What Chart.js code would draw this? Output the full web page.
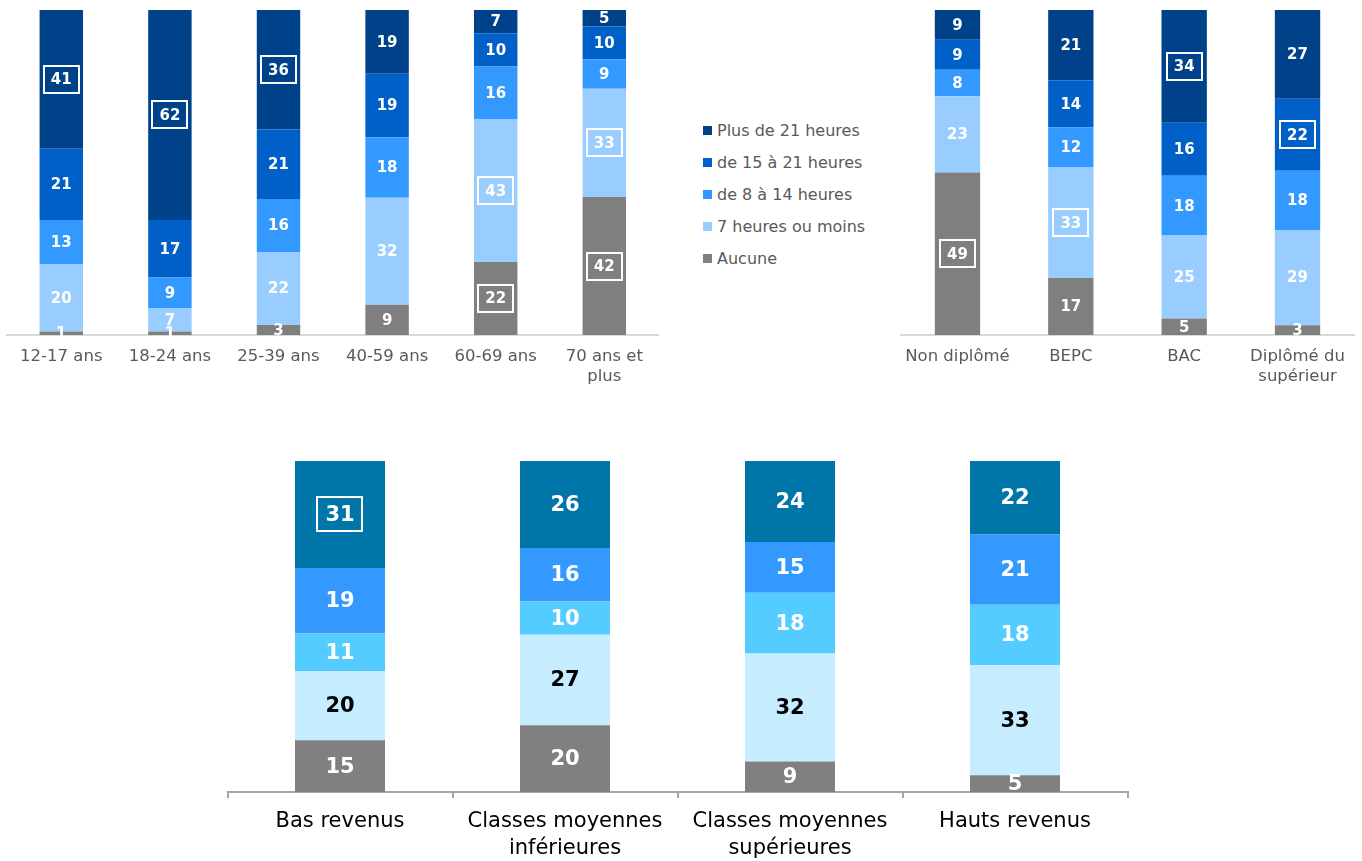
<!DOCTYPE html>
<html lang="fr">
<head>
<meta charset="utf-8">
<title>Heures par semaine</title>
<script src="https://cdn.jsdelivr.net/npm/chart.js@4/dist/chart.umd.min.js"></script>
<style>
  body { margin: 0; background: #fff; font-family: "DejaVu Sans", sans-serif; }
  canvas { position: absolute; }
  #legende { position: absolute; left: 703px; top: 114px; }
  .item { display: flex; align-items: center; height: 32px; font-size: 16px; color: #595959; }
  .carre { width: 9px; height: 9px; margin-right: 5px; }
</style>
</head>
<body>
<canvas id="graphAges" width="670" height="400" style="left:0;top:0"></canvas>
<div id="legende"></div>
<canvas id="graphDiplomes" width="482" height="400" style="left:880px;top:0"></canvas>
<canvas id="graphRevenus" width="1060" height="421" style="left:150px;top:440px"></canvas>
<script>
// Séries, du bas de la pile vers le haut
const series = ['Aucune', '7 heures ou moins', 'de 8 à 14 heures', 'de 15 à 21 heures', 'Plus de 21 heures'];
const couleursHaut = ['#7f7f7f', '#99ccff', '#3399ff', '#0060c8', '#00428a'];
const couleursBas = ['#808080', '#c6ecff', '#55ccff', '#3399ff', '#0075a8'];

// Âge
const ages = ['12-17 ans', '18-24 ans', '25-39 ans', '40-59 ans', '60-69 ans', ['70 ans et', 'plus']];
const agesAucune = [1, 1, 3, 9, 22, 42];
const ages7h = [20, 7, 22, 32, 43, 33];
const ages8a14 = [13, 9, 16, 18, 16, 9];
const ages15a21 = [21, 17, 21, 19, 10, 10];
const agesPlus21 = [41, 62, 36, 19, 7, 5];
const agesEncadres = [[4, 0], [4, 1], [4, 2], [1, 4], [0, 4], [1, 5], [0, 5]]; // [série, catégorie]

// Diplôme
const diplomes = ['Non diplômé', 'BEPC', 'BAC', ['Diplômé du', 'supérieur']];
const diplAucune = [49, 17, 5, 3];
const dipl7h = [23, 33, 25, 29];
const dipl8a14 = [8, 12, 18, 18];
const dipl15a21 = [9, 14, 16, 22];
const diplPlus21 = [9, 21, 34, 27];
const diplEncadres = [[0, 0], [1, 1], [4, 2], [3, 3]];

// Revenus
const revenus = ['Bas revenus', ['Classes moyennes', 'inférieures'], ['Classes moyennes', 'supérieures'], 'Hauts revenus'];
const revAucune = [15, 20, 9, 5];
const rev7h = [20, 27, 32, 33];
const rev8a14 = [11, 10, 18, 18];
const rev15a21 = [19, 16, 15, 21];
const revPlus21 = [31, 26, 24, 22];
const revEncadres = [[4, 0]];

// Chaque barre est ramenée à 100 %
function construireJeux(valeurs, couleurs, largeur) {
    const totaux = valeurs[0].map((_, j) => valeurs.reduce((s, v) => s + v[j], 0));
    return valeurs.map((v, i) => ({
        label: series[i],
        data: v.map((x, j) => x / totaux[j] * 100),
        backgroundColor: couleurs[i],
        borderWidth: 0,
        categoryPercentage: 1,
        barPercentage: largeur
    }));
}

// Étiquettes des segments (+ cadres blancs)
function etiquettes(valeurs, encadres, taille, marge, hauteur, couleursTexte) {
    return {
        id: 'etiquettes',
        afterDatasetsDraw(chart) {
            const ctx = chart.ctx;
            ctx.save();
            ctx.font = 'bold ' + taille + 'px "DejaVu Sans"';
            ctx.textAlign = 'center';
            ctx.textBaseline = 'middle';
            valeurs.forEach((v, i) => {
                const meta = chart.getDatasetMeta(i);
                meta.data.forEach((barre, j) => {
                    const p = barre.getProps(['x', 'y', 'base'], true);
                    const cy = (p.y + p.base) / 2;
                    const texte = String(v[j]);
                    ctx.fillStyle = couleursTexte[i];
                    ctx.fillText(texte, p.x, cy + 1);
                    if (encadres.some(e => e[0] === i && e[1] === j)) {
                        const w = ctx.measureText(texte).width + marge * 2;
                        ctx.strokeStyle = '#fff';
                        ctx.lineWidth = 2;
                        ctx.strokeRect(Math.round(p.x - w / 2), Math.round(cy - hauteur / 2), Math.round(w), hauteur);
                    }
                });
            });
            ctx.restore();
        }
    };
}

function creerGraphique(id, categories, valeurs, opts) {
    const ctx = document.getElementById(id).getContext('2d');
    return new Chart(ctx, {
        type: 'bar',
        data: {
            labels: categories,
            datasets: construireJeux(valeurs, opts.couleurs, opts.largeur)
        },
        options: {
            responsive: false,
            animation: false,
            layout: { padding: opts.padding },
            plugins: { legend: { display: false }, tooltip: { enabled: false } },
            scales: {
                x: {
                    stacked: true,
                    grid: opts.grille,
                    border: { display: true, color: opts.couleurAxe, width: 2 },
                    ticks: {
                        color: opts.couleurTicks,
                        padding: opts.padTicks,
                        maxRotation: 0,
                        autoSkip: false,
                        font: { family: 'DejaVu Sans', size: opts.tailleTicks, lineHeight: opts.interligne }
                    },
                    afterFit: s => { s.height = opts.hauteurAxe; }
                },
                y: { stacked: true, display: false, min: 0, max: 100 }
            }
        },
        plugins: [etiquettes(valeurs, opts.encadres, opts.tailleEtiq, opts.marge, opts.hauteurCadre, opts.couleursTexte)]
    });
}

const blanc = ['#fff', '#fff', '#fff', '#fff', '#fff'];

creerGraphique('graphAges', ages, [agesAucune, ages7h, ages8a14, ages15a21, agesPlus21], {
    couleurs: couleursHaut, largeur: 0.4,
    padding: { left: 7, right: 11.4, top: 10, bottom: 0 },
    grille: { display: false, drawTicks: false },
    couleurAxe: '#d9d9d9', couleurTicks: '#595959', padTicks: 12,
    tailleTicks: 16.5, interligne: 1.22, hauteurAxe: 65,
    encadres: agesEncadres, tailleEtiq: 15, marge: 7, hauteurCadre: 27, couleursTexte: blanc
});

creerGraphique('graphDiplomes', diplomes, [diplAucune, dipl7h, dipl8a14, dipl15a21, diplPlus21], {
    couleurs: couleursHaut, largeur: 0.4,
    padding: { left: 20.8, right: 7.8, top: 10, bottom: 0 },
    grille: { display: false, drawTicks: false },
    couleurAxe: '#d9d9d9', couleurTicks: '#595959', padTicks: 12,
    tailleTicks: 16.5, interligne: 1.22, hauteurAxe: 65,
    encadres: diplEncadres, tailleEtiq: 15, marge: 7, hauteurCadre: 27, couleursTexte: blanc
});

creerGraphique('graphRevenus', revenus, [revAucune, rev7h, rev8a14, rev15a21, revPlus21], {
    couleurs: couleursBas, largeur: 0.4,
    padding: { left: 77.5, right: 82.5, top: 21, bottom: 0 },
    grille: { display: true, drawOnChartArea: false, drawTicks: true, tickLength: 6, color: '#a6a6a6', lineWidth: 2 },
    couleurAxe: '#a6a6a6', couleurTicks: '#000', padTicks: 11,
    tailleTicks: 21, interligne: 1.24, hauteurAxe: 69,
    encadres: revEncadres, tailleEtiq: 21, marge: 8, hauteurCadre: 34,
    couleursTexte: ['#fff', '#000', '#fff', '#fff', '#fff']
});

// Légende commune (de haut en bas : plus de 21 h -> aucune)
const legende = document.getElementById('legende');
for (let i = series.length - 1; i >= 0; i--) {
    const item = document.createElement('div');
    item.className = 'item';
    item.innerHTML = '<span class="carre" style="background:' + couleursHaut[i] + '"></span>' + series[i];
    legende.appendChild(item);
}
</script>
</body>
</html>
